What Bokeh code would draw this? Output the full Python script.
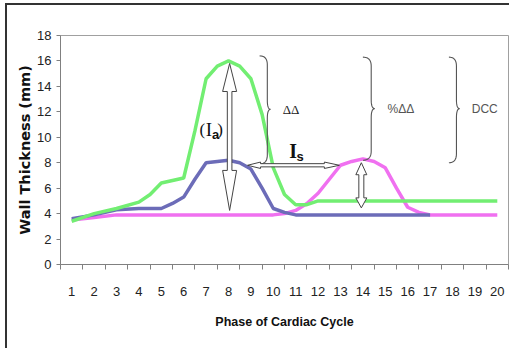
from bokeh.plotting import figure
from bokeh.models import FixedTicker, Label
from bokeh.embed import file_html
from bokeh.resources import INLINE
import numpy as np

# ---------------- data ----------------
green_phase = [1, 2, 3, 4, 4.5, 5, 5.5, 6, 6.5, 7, 7.5, 8, 8.5, 9, 9.5, 10, 10.5, 11, 11.5, 12,
               13, 14, 15, 16, 17, 18, 19, 20]
green_wall = [3.4, 4.0, 4.4, 4.9, 5.5, 6.4, 6.6, 6.8, 10.5, 14.6, 15.6, 16.0, 15.6, 14.6, 11.8, 7.6,
              5.5, 4.7, 4.7, 5.0, 5.0, 5.0, 5.0, 5.0, 5.0, 5.0, 5.0, 5.0]

blue_phase = [1, 2, 3, 4, 5, 5.5, 6, 6.5, 7, 7.5, 8, 8.5, 9, 9.5, 10, 10.5, 11, 12, 13, 14, 15, 16, 17]
blue_wall = [3.6, 3.9, 4.3, 4.4, 4.4, 4.8, 5.3, 6.7, 8.0, 8.1, 8.2, 8.0, 7.5, 6.0, 4.4, 4.1, 3.9,
             3.9, 3.9, 3.9, 3.9, 3.9, 3.9]

pink_phase = [1, 2, 3, 4, 5, 6, 7, 8, 9, 10, 10.5, 11, 11.5, 12, 12.5, 13, 13.5, 14, 14.5, 15,
              15.5, 16, 16.5, 17, 18, 19, 20]
pink_wall = [3.5, 3.7, 3.9, 3.9, 3.9, 3.9, 3.9, 3.9, 3.9, 3.9, 4.0, 4.25, 4.8, 5.6, 6.7, 7.8, 8.1,
             8.3, 8.1, 7.6, 6.0, 4.5, 4.1, 3.9, 3.9, 3.9, 3.9]

x_ticks = list(range(1, 21))
y_ticks = list(range(0, 19, 2))

# annotation anchors (data units)
ia_arrow = dict(x=8.05, y_top=15.8, y_bot=4.25)
is_arrow = dict(y=7.8, x_left=8.85, x_right=12.95)
pk_arrow = dict(x=13.93, y_top=8.0, y_bot=4.45)
braces = [dict(x_left=9.39, x_tip=9.88, y_top=16.4, y_bot=7.9, y_mid=12.2),
          dict(x_left=14.0, x_tip=14.53, y_top=16.3, y_bot=8.2, y_mid=12.25),
          dict(x_left=17.84, x_tip=18.32, y_top=16.3, y_bot=8.0, y_mid=12.25)]

# ---------------- figure ----------------
FRAME_W, FRAME_H = 448, 229
ML, MR, MT, MB = 53, 3, 30, 86
X0, X1, Y0, Y1 = 0.5, 20.5, 0, 18

p = figure(width=ML + FRAME_W + MR, height=MT + FRAME_H + MB,
           frame_width=FRAME_W, frame_height=FRAME_H,
           x_range=(X0, X1), y_range=(Y0, Y1),
           output_backend="svg", toolbar_location=None,
           min_border_left=ML, min_border_right=MR, min_border_top=MT, min_border_bottom=MB)
p.styles = {"margin-left": "7px", "margin-top": "5px", "box-shadow": "-2px -2px 0 0 #333333"}

p.xgrid.grid_line_color = None
p.ygrid.grid_line_color = None
p.outline_line_color = "#a0a0a0"
p.background_fill_color = "white"
p.border_fill_color = "white"

PXX = FRAME_W / (X1 - X0)
PXY = FRAME_H / (Y1 - Y0)

TICK_FONT = "Liberation Sans"
ax_col = "#808080"

xa = p.xaxis[0]
xa.ticker = FixedTicker(ticks=x_ticks, minor_ticks=[t - 0.5 for t in x_ticks] + [x_ticks[-1] + 0.5])
xa.major_tick_line_color = None
xa.major_tick_out = 5
xa.major_tick_in = 0
xa.minor_tick_line_color = ax_col
xa.minor_tick_out = 5
xa.minor_tick_in = 0
xa.axis_line_color = ax_col
xa.major_label_standoff = 17
xa.major_label_text_font = TICK_FONT
xa.major_label_text_font_size = "13px"
xa.major_label_text_color = "#222222"
xa.axis_label = "Phase of Cardiac Cycle"
xa.axis_label_text_font = TICK_FONT
xa.axis_label_text_font_style = "bold"
xa.axis_label_text_font_size = "12.5px"
xa.axis_label_text_color = "#111111"
xa.axis_label_standoff = 16

ya = p.yaxis[0]
ya.ticker = FixedTicker(ticks=y_ticks, minor_ticks=[])
ya.major_tick_line_color = ax_col
ya.major_tick_out = 4
ya.major_tick_in = 0
ya.minor_tick_line_color = None
ya.axis_line_color = ax_col
ya.major_label_standoff = 5
ya.major_label_text_font = TICK_FONT
ya.major_label_text_font_size = "13px"
ya.major_label_text_color = "#222222"
ya.axis_label = "Wall Thickness (mm)"
ya.axis_label_text_font = "DejaVu Sans"
ya.axis_label_text_font_style = "bold"
ya.axis_label_text_font_size = "14.5px"
ya.axis_label_text_color = "#111111"
ya.axis_label_standoff = 1

# ---------------- series ----------------
p.line(pink_phase, pink_wall, line_color="#f070f0", line_width=3.5)
p.line(blue_phase, blue_wall, line_color="#6c6cb8", line_width=3.5)
p.line(green_phase, green_wall, line_color="#72ee72", line_width=3.5)

# ---------------- annotation helpers ----------------
def vx(px):
    return px / PXX

def vy(px):
    return px / PXY

def v_arrow(x, yt, yb, s, h, lt, lb):
    xs = [x, x + vx(h), x + vx(s), x + vx(s), x + vx(h), x, x - vx(h), x - vx(s), x - vx(s), x - vx(h)]
    ys = [yt, yt - vy(lt), yt - vy(lt), yb + vy(lb), yb + vy(lb), yb, yb + vy(lb), yb + vy(lb),
          yt - vy(lt), yt - vy(lt)]
    return xs, ys

def h_arrow(y, xl, xr, s, h, ll, lr):
    ys = [y, y + vy(h), y + vy(s), y + vy(s), y + vy(h), y, y - vy(h), y - vy(s), y - vy(s), y - vy(h)]
    xs = [xr, xr - vx(lr), xr - vx(lr), xl + vx(ll), xl + vx(ll), xl, xl + vx(ll), xl + vx(ll),
          xr - vx(lr), xr - vx(lr)]
    return xs, ys

def quad(p0, c, p1, n=12):
    t = np.linspace(0, 1, n)
    xs = (1 - t) ** 2 * p0[0] + 2 * (1 - t) * t * c[0] + t ** 2 * p1[0]
    ys = (1 - t) ** 2 * p0[1] + 2 * (1 - t) * t * c[1] + t ** 2 * p1[1]
    return list(xs), list(ys)

def brace(b, r_px=9):
    xl, xt = b["x_left"], b["x_tip"]
    xv = xl + 0.7 * (xt - xl)
    r = vy(r_px)
    yt, yb, ym = b["y_top"], b["y_bot"], b["y_mid"]
    segs = [quad((xl, yt), (xv, yt), (xv, yt - r)),
            ([xv, xv], [yt - r, ym + r]),
            quad((xv, ym + r), (xv, ym), (xt, ym)),
            quad((xt, ym), (xv, ym), (xv, ym - r)),
            ([xv, xv], [ym - r, yb + r]),
            quad((xv, yb + r), (xv, yb), (xl, yb))]
    xs, ys = [], []
    for sx, sy in segs:
        xs += list(sx)
        ys += list(sy)
    return xs, ys

OUT = "#444444"
for b in braces:
    bx, by = brace(b)
    p.line(bx, by, line_color="#555555", line_width=1.1)

ax_, ay_ = v_arrow(ia_arrow["x"], ia_arrow["y_top"], ia_arrow["y_bot"], 2.3, 7, 28, 40)
p.patch(ax_, ay_, fill_color="white", line_color=OUT, line_width=1)
hx, hy = h_arrow(is_arrow["y"], is_arrow["x_left"], is_arrow["x_right"], 1.6, 3.2, 13, 15)
p.patch(hx, hy, fill_color="white", line_color=OUT, line_width=1)
kx, ky = v_arrow(pk_arrow["x"], pk_arrow["y_top"], pk_arrow["y_bot"], 2.5, 5.5, 12, 10)
p.patch(kx, ky, fill_color="white", line_color=OUT, line_width=1)

# ---------------- texts ----------------
def lab(x, y, t, font, size, style="normal", color="#111111", align="center", base="middle"):
    p.add_layout(Label(x=x, y=y, text=t, text_font=font, text_font_size=size, text_font_style=style,
                       text_color=color, text_align=align, text_baseline=base))

lab(6.83, 10.6, "(", "Liberation Serif", "17px")
lab(7.13, 10.65, "I", "Liberation Serif", "19px")
lab(7.42, 10.25, "a", "Liberation Sans", "13px", "bold")
lab(7.62, 10.6, ")", "Liberation Serif", "17px")

lab(10.89, 8.95, "I", "Liberation Serif", "20px", "bold")
lab(11.2, 8.45, "s", "Liberation Sans", "13px", "bold")

lab(10.42, 12.2, "ΔΔ", "Liberation Serif", "13px", align="left", color="#222222")
lab(15.1, 12.2, "%ΔΔ", "Liberation Sans", "12px", align="left", color="#555555")
lab(18.86, 12.2, "DCC", "Liberation Sans", "12px", align="left", color="#555555")

open("out.html", "w").write(file_html(p, INLINE))
